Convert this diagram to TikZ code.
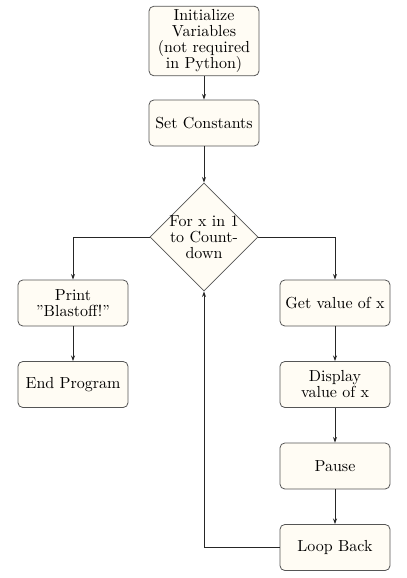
\documentclass[tikz,border=0pt]{standalone}
\usetikzlibrary{shapes.geometric,arrows.meta}
\definecolor{boxfill}{HTML}{FFFCF4}
\definecolor{boxline}{HTML}{555555}
\begin{document}
\begin{tikzpicture}[x=0.625pt,y=-0.625pt,
  stepbox/.style={draw=boxline,fill=boxfill,rounded corners=3pt,minimum width=68.75pt,minimum height=28.75pt,align=center,inner sep=2pt,line width=0.5pt},
  decbox/.style={draw=boxline,fill=boxfill,diamond,minimum size=67.5pt,inner sep=-6pt,align=center,line width=0.5pt},
  conn/.style={draw=black!85,line width=0.5pt,-{Stealth[length=3.5pt,width=2.5pt]}}]
\useasboundingbox (0,0) rectangle (407,578);
\node[stepbox,minimum height=42.5pt] (init) at (204,41) {Initialize\\[-2pt]Variables\\[-2pt](not required\\[-2pt]in Python)};
\node[stepbox] (setc) at (204,123) {Set Constants};
\node[decbox] (loop) at (204,237) {For x in 1\\[-2pt]to Count-\\[-2pt]down};
\node[stepbox] (print) at (73,303) {Print\\[-2pt]''Blastoff!''};
\node[stepbox] (endp) at (73,384.5) {End Program};
\node[stepbox] (getx) at (335,303) {Get value of x};
\node[stepbox] (disp) at (335,384.5) {Display\\[-2pt]value of x};
\node[stepbox] (pause) at (335,466) {Pause};
\node[stepbox] (back) at (335,547.5) {Loop Back};
\draw[conn] (init) -- (setc);
\draw[conn] (setc) -- (loop);
\draw[conn] (loop.west) -| (print.north);
\draw[conn] (loop.east) -| (getx.north);
\draw[conn] (print) -- (endp);
\draw[conn] (getx) -- (disp);
\draw[conn] (disp) -- (pause);
\draw[conn] (pause) -- (back);
\draw[conn] (back.west) -| (loop.south);
\end{tikzpicture}
\end{document}
